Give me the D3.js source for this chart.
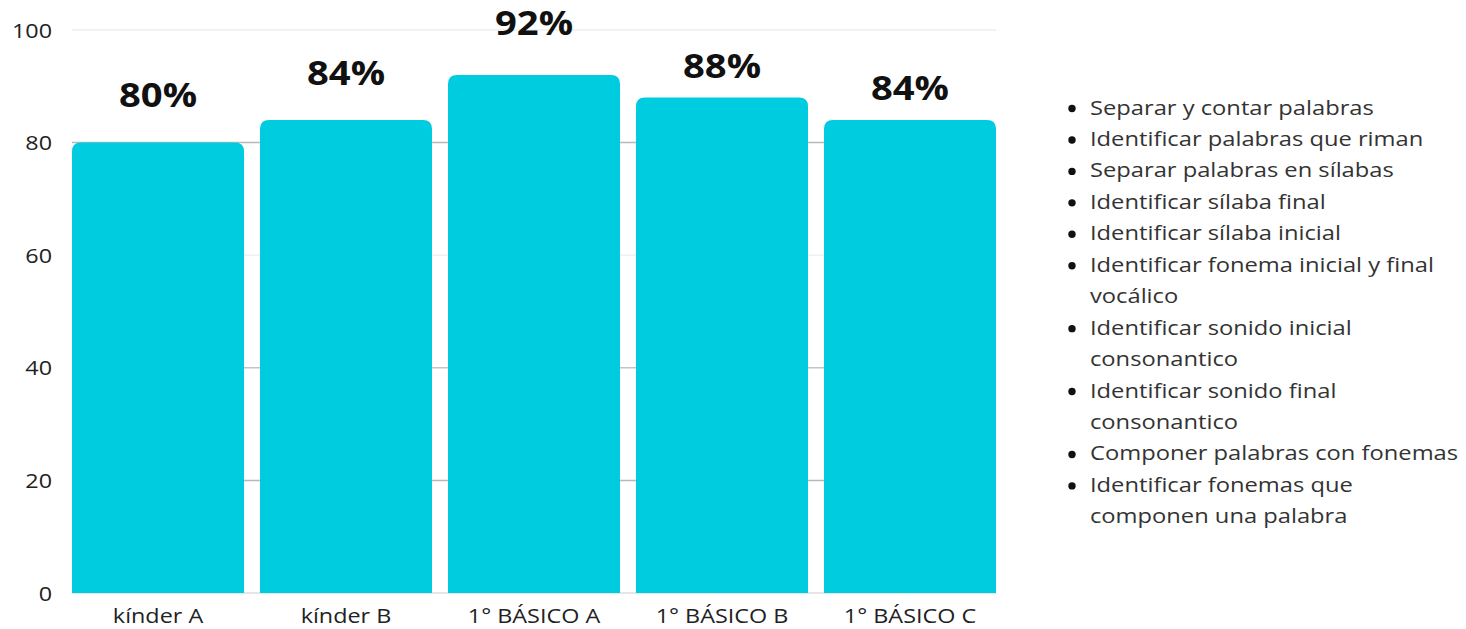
<!DOCTYPE html>
<html><head><meta charset="utf-8">
<script src="https://cdn.jsdelivr.net/npm/d3@7"></script>
<style>html,body{margin:0;padding:0;background:#fff;}svg{display:block;}</style>
</head><body><svg id="c" width="1466" height="629"></svg>
<script>
const categories = ["kínder A", "kínder B", "1° BÁSICO A", "1° BÁSICO B", "1° BÁSICO C"];
const values = [80, 84, 92, 88, 84];
const valueLabels = ["80%", "84%", "92%", "88%", "84%"];
const yTicks = [0, 20, 40, 60, 80, 100];
const legendItems = [
  ["Separar y contar palabras"],
  ["Identificar palabras que riman"],
  ["Separar palabras en sílabas"],
  ["Identificar sílaba final"],
  ["Identificar sílaba inicial"],
  ["Identificar fonema inicial y final", "vocálico"],
  ["Identificar sonido inicial", "consonantico"],
  ["Identificar sonido final", "consonantico"],
  ["Componer palabras con fonemas"],
  ["Identificar fonemas que", "componen una palabra"]
];

// layout / style (not data)
const SX = 1.14; // horizontal stretch of text seen in reference
const font = "'Open Sans', 'Noto Sans', sans-serif";
const labelGap = [36, 35, 40, 20, 20];
const gridColor = {0: "#dcdcdc", 20: "#b8b8b8", 40: "#c4c4c4", 60: "#f1f1f1", 80: "#b8b8b8", 100: "#eeeeee"};

const svg = d3.select("#c");
const x = d3.scaleBand().domain(categories).range([72, 996]).paddingInner(0.085).paddingOuter(0);
const y = d3.scaleLinear().domain([0, 100]).range([593, 30]);

function stretchedText(g, tx, ty) {
  return g.append("text").attr("transform", `translate(${tx},${ty}) scale(${SX},1)`);
}

// gridlines
svg.append("g").selectAll("line").data(yTicks).join("line")
  .attr("x1", 72).attr("x2", 996)
  .attr("y1", d => y(d)).attr("y2", d => y(d))
  .attr("stroke", d => gridColor[d]).attr("stroke-width", 1.5);

// y tick labels
const yl = svg.append("g");
yTicks.forEach(t => {
  stretchedText(yl, 52, y(t) + 7.5).attr("text-anchor", "end")
    .attr("font-family", font).attr("font-size", 20.5).attr("fill", "#222").text(t);
});

// bars with rounded tops
const r = 9;
function barPath(x0, w, yTop, yBot) {
  return `M${x0},${yBot}V${yTop + r}Q${x0},${yTop} ${x0 + r},${yTop}H${x0 + w - r}Q${x0 + w},${yTop} ${x0 + w},${yTop + r}V${yBot}Z`;
}
svg.append("g").selectAll("path").data(values).join("path")
  .attr("d", (d, i) => barPath(x(categories[i]), x.bandwidth(), y(d), y(0)))
  .attr("fill", "#00cce0");

// value labels
const vl = svg.append("g");
values.forEach((v, i) => {
  stretchedText(vl, x(categories[i]) + x.bandwidth() / 2, y(v) - labelGap[i])
    .attr("text-anchor", "middle").attr("font-family", font).attr("font-weight", 700)
    .attr("font-size", 33.5).attr("fill", "#111").text(valueLabels[i]);
});

// x category labels
const xl = svg.append("g");
categories.forEach(c => {
  stretchedText(xl, x(c) + x.bandwidth() / 2, 623).attr("text-anchor", "middle")
    .attr("font-family", font).attr("font-size", 20.5).attr("fill", "#222").text(c);
});

// legend
const lg = svg.append("g");
let line = 0;
const lh = 31.45, ly0 = 114.5;
legendItems.forEach(item => {
  lg.append("circle").attr("cx", 1072).attr("cy", ly0 + line * lh - 6).attr("r", 3.7).attr("fill", "#111");
  item.forEach(t => {
    stretchedText(lg, 1090, ly0 + line * lh).attr("font-family", font).attr("font-size", 20.8)
      .attr("fill", "#333").text(t);
    line++;
  });
});
</script></body></html>
